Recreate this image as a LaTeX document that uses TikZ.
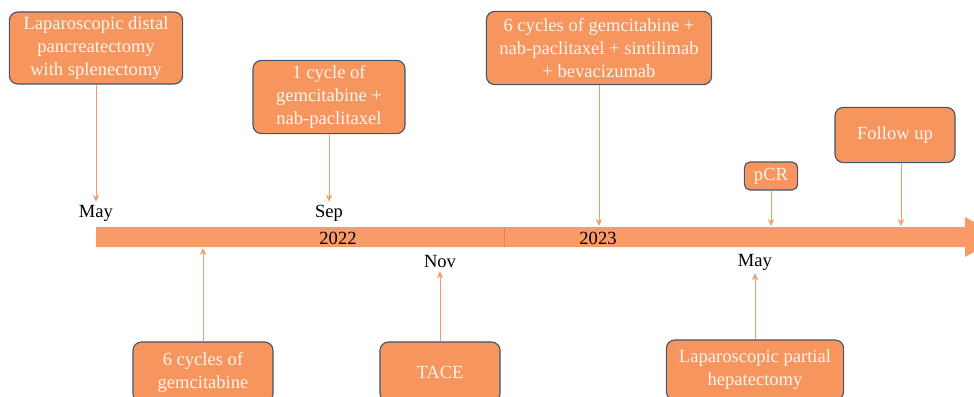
\documentclass[tikz,border=0pt]{standalone}
\usepackage{fontspec}
\setmainfont{Liberation Serif}
\usetikzlibrary{arrows.meta, positioning}
\definecolor{barorange}{HTML}{F99B66}
\definecolor{boxorange}{HTML}{F7955F}
\definecolor{boxedge}{HTML}{44546A}
\definecolor{boxtext}{HTML}{FFF4EC}
\definecolor{divorange}{HTML}{E8824C}
\tikzstyle{arrow} = [draw=barorange, line width=0.7pt, -{Stealth[length=5pt, width=4.5pt]}]

\begin{document}
\begin{tikzpicture}[x=0.025cm, y=-0.025cm,
    eventblock/.style={rectangle, rounded corners=6pt, draw=boxedge, line width=0.8pt, fill=boxorange, text=boxtext, align=center, font=\fontsize{13.2}{16.4}\selectfont, inner sep=2pt},
    monthlabel/.style={font=\fontsize{13.2}{15}\selectfont, inner sep=2pt},
    yearlabel/.style={font=\fontsize{13.2}{15}\selectfont, inner sep=1pt},
]

\clip (0,0) rectangle (974,396);

% Time bar
\fill[barorange] (96,227) -- (965,227) -- (965,217) -- (1001,237) -- (965,257) -- (965,247) -- (96,247) -- cycle;
\draw[divorange, line width=0.5pt] (504,227) -- (504,247);

% Years
\node[yearlabel] (y2022) at (338,238) {2022};
\node[yearlabel] (y2023) at (598,238) {2023};

% Months
\node[monthlabel] (may22) at (96,213) {May};
\node[monthlabel] (sep22) at (329,213) {Sep};
\node[monthlabel] (nov22) at (440,262) {Nov};
\node[monthlabel] (may23) at (755,262) {May};

% Points on the bar
\coordinate (combobar) at (599,226);
\coordinate (pcrbar) at (771,226);
\coordinate (followbar) at (901,226);
\coordinate (gembar) at (203,248);

% Events above the bar
\node[eventblock, minimum width=4.33cm, minimum height=1.8cm] (distal) at (96,48) {Laparoscopic distal\\pancreatectomy\\with splenectomy};
\node[eventblock, minimum width=3.8cm, minimum height=1.83cm] (onecycle) at (329,97) {1 cycle of\\gemcitabine +\\nab-paclitaxel};
\node[eventblock, minimum width=5.63cm, minimum height=1.83cm] (combo) at (599,48) {6 cycles of gemcitabine +\\nab-paclitaxel + sintilimab\\+ bevacizumab};
\node[eventblock, minimum width=1.33cm, minimum height=0.7cm, rounded corners=4pt] (pcr) at (771,176) {pCR};
\node[eventblock, minimum width=3cm, minimum height=1.38cm] (follow) at (895,135) {Follow up};

% Events below the bar
\node[eventblock, minimum width=3.5cm, minimum height=1.5cm] (sixcycles) at (203,372) {6 cycles of\\gemcitabine};
\node[eventblock, minimum width=3cm, minimum height=1.5cm] (tace) at (440,372) {TACE};
\node[eventblock, minimum width=4.43cm, minimum height=1.5cm] (hepat) at (755,370) {Laparoscopic partial\\hepatectomy};

% Connectors
\draw[arrow] (distal) -- (may22);
\draw[arrow] (onecycle) -- (sep22);
\draw[arrow] (combo) -- (combobar);
\draw[arrow] (pcr) -- (pcrbar);
\draw[arrow] (followbar |- follow.south) -- (followbar);
\draw[arrow] (sixcycles) -- (gembar);
\draw[arrow] (tace) -- (nov22);
\draw[arrow] (hepat) -- (may23);

\end{tikzpicture}
\end{document}
